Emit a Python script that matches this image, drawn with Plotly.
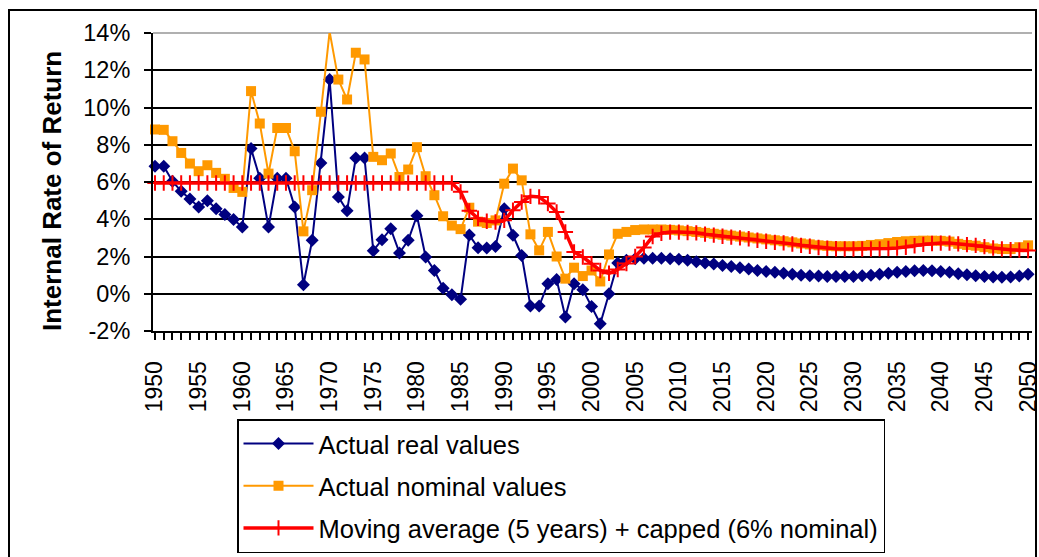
import plotly.graph_objects as go

years = list(range(1950, 2051))

real_values = [
    6.85, 6.85, 6.04, 5.50, 5.09, 4.66, 5.00, 4.57, 4.25, 3.98,
    3.58, 7.80, 6.20, 3.58, 6.20, 6.20, 4.66, 0.48, 2.87, 7.02,
    11.50, 5.20, 4.46, 7.29, 7.29, 2.31, 2.90, 3.49, 2.19, 2.87,
    4.19, 1.97, 1.25, 0.30, -0.05, -0.30, 3.15, 2.47, 2.46, 2.54,
    4.57, 3.14, 2.06, -0.66, -0.66, 0.54, 0.77, -1.25, 0.54, 0.22,
    -0.68, -1.61, 0.00, 1.65, 1.80, 1.88, 1.90, 1.90, 1.90, 1.88,
    1.85, 1.80, 1.72, 1.65, 1.60, 1.52, 1.46, 1.40, 1.33, 1.25,
    1.20, 1.15, 1.10, 1.05, 1.00, 0.97, 0.95, 0.93, 0.92, 0.92,
    0.93, 0.96, 1.00, 1.05, 1.10, 1.15, 1.20, 1.23, 1.25, 1.23,
    1.20, 1.15, 1.08, 1.02, 0.97, 0.93, 0.90, 0.88, 0.90, 0.95,
    1.05,
]

nominal_values = [
    8.82, 8.80, 8.19, 7.56, 6.99, 6.58, 6.90, 6.49, 6.17, 5.68,
    5.47, 10.88, 9.14, 6.45, 8.90, 8.90, 7.65, 3.35, 5.56, 9.77,
    14.07, 11.50, 10.43, 12.94, 12.58, 7.35, 7.17, 7.53, 6.27, 6.67,
    7.87, 6.31, 5.29, 4.16, 3.66, 3.47, 4.62, 3.87, 3.80, 3.94,
    5.91, 6.72, 6.09, 3.19, 2.33, 3.32, 2.00, 0.81, 1.40, 0.95,
    1.25, 0.66, 2.11, 3.22, 3.32, 3.42, 3.45, 3.45, 3.45, 3.43,
    3.40, 3.36, 3.32, 3.27, 3.22, 3.17, 3.12, 3.07, 3.02, 2.97,
    2.92, 2.87, 2.82, 2.76, 2.70, 2.65, 2.60, 2.57, 2.55, 2.55,
    2.55, 2.57, 2.62, 2.66, 2.72, 2.78, 2.82, 2.84, 2.85, 2.85,
    2.84, 2.80, 2.68, 2.62, 2.58, 2.50, 2.43, 2.40, 2.40, 2.50,
    2.60,
]

moving_avg_values = [
    5.95, 5.95, 5.95, 5.95, 5.95, 5.95, 5.95, 5.95, 5.95, 5.95,
    5.95, 5.95, 5.95, 5.95, 5.95, 5.95, 5.95, 5.95, 5.95, 5.95,
    5.95, 5.95, 5.95, 5.95, 5.95, 5.95, 5.95, 5.95, 5.95, 5.95,
    5.95, 5.95, 5.95, 5.95, 5.95, 5.47, 4.45, 4.05, 3.89, 3.85,
    3.94, 4.48, 4.93, 5.23, 5.20, 4.84, 4.39, 3.32, 2.24, 1.97,
    1.61, 1.25, 1.10, 1.30, 1.62, 2.00, 2.48, 3.07, 3.25, 3.31,
    3.31, 3.29, 3.27, 3.20, 3.15, 3.09, 3.04, 3.00, 2.95, 2.87,
    2.82, 2.76, 2.73, 2.67, 2.60, 2.55, 2.48, 2.44, 2.42, 2.40,
    2.40, 2.40, 2.40, 2.41, 2.43, 2.46, 2.50, 2.58, 2.65, 2.70,
    2.72, 2.72, 2.68, 2.64, 2.60, 2.53, 2.46, 2.40, 2.36, 2.34,
    2.32,
]

y_ticks = [-2, 0, 2, 4, 6, 8, 10, 12, 14]
y_tick_labels = [f"{v}%" for v in y_ticks]
x_tick_labels = [str(y) if y % 5 == 0 else "" for y in years]

FONT = "Liberation Sans, Arial, sans-serif"

fig = go.Figure()
fig.add_trace(go.Scatter(
    x=years, y=real_values, mode="lines+markers", name="Actual real values",
    line=dict(color="#000080", width=2),
    marker=dict(symbol="diamond", size=10, color="#000080"),
    cliponaxis=False, legendgroup="a",
))
fig.add_trace(go.Scatter(
    x=years, y=nominal_values, mode="lines+markers", name="Actual nominal values",
    line=dict(color="#FF9900", width=2),
    marker=dict(symbol="square", size=10, color="#FF9900"),
    cliponaxis=False, legendgroup="b",
))
fig.add_trace(go.Scatter(
    x=years, y=moving_avg_values, mode="lines+markers",
    name="Moving average (5 years) + capped (6% nominal)",
    line=dict(color="#FF0000", width=3.5),
    marker=dict(symbol="cross-thin", size=11, color="#FF0000",
                line=dict(color="#FF0000", width=2)),
    cliponaxis=False, legendgroup="c",
))

W, H = 1039, 557
PLOT_LEFT, PLOT_RIGHT, PLOT_TOP, PLOT_BOTTOM = 153, 1032, 33, 331  # page px
L, R = PLOT_LEFT, W - PLOT_RIGHT
T, B = PLOT_TOP, H - PLOT_BOTTOM
pw, ph = W - L - R, H - T - B

def px_x(p):
    return (p - L) / pw

def px_y(p):
    return (H - B - p) / ph

fig.update_layout(
    width=W, height=H,
    margin=dict(l=L, r=R, t=T, b=B, autoexpand=False),
    paper_bgcolor="white", plot_bgcolor="white",
    font=dict(family=FONT, size=24, color="black"),
    showlegend=True,
    legend=dict(
        x=px_x(237), y=px_y(419), xanchor="left", yanchor="top",
        bordercolor="black", borderwidth=1.5, bgcolor="white",
        font=dict(family=FONT, size=25.5, color="black"),
        traceorder="grouped", tracegroupgap=6, itemwidth=70,
    ),
    xaxis=dict(
        range=[1949.77, 2050.45], tickmode="array", tickvals=years, ticktext=x_tick_labels,
        tickangle=-90, ticks="outside", ticklen=7, tickwidth=1.5, tickcolor="black",
        showline=True, linecolor="black", linewidth=2, showgrid=False, zeroline=False,
        tickfont=dict(family=FONT, size=23), ticklabelstandoff=12,
        ticklabeloverflow="allow",
    ),
    yaxis=dict(
        range=[-2, 14], tickmode="array", tickvals=y_ticks, ticktext=y_tick_labels,
        ticks="outside", ticklen=7, tickwidth=1.5, tickcolor="black",
        showline=True, linecolor="black", linewidth=2,
        showgrid=True, gridcolor="black", gridwidth=1.5, zeroline=False,
        tickfont=dict(family=FONT, size=23.5), ticklabelstandoff=9,
    ),
    shapes=[
        dict(type="line", xref="paper", yref="paper", x0=0, x1=1, y0=1, y1=1,
             line=dict(color="#B0B0B0", width=2), layer="between"),
        dict(type="rect", xref="paper", yref="paper",
             x0=px_x(9), x1=px_x(1036), y0=px_y(10), y1=px_y(570),
             line=dict(color="black", width=2), fillcolor="rgba(0,0,0,0)", layer="below"),
    ],
    annotations=[
        dict(text="<b>Internal Rate of Return</b>", xref="paper", yref="paper",
             x=px_x(52), y=px_y(191), textangle=-90, showarrow=False,
             xanchor="center", yanchor="middle",
             font=dict(family=FONT, size=26, color="black")),
    ],
)

fig.write_html(
    "out.html",
    config={"displayModeBar": False},
    post_script="document.body.style.margin='0';document.body.style.overflow='hidden';",
)
